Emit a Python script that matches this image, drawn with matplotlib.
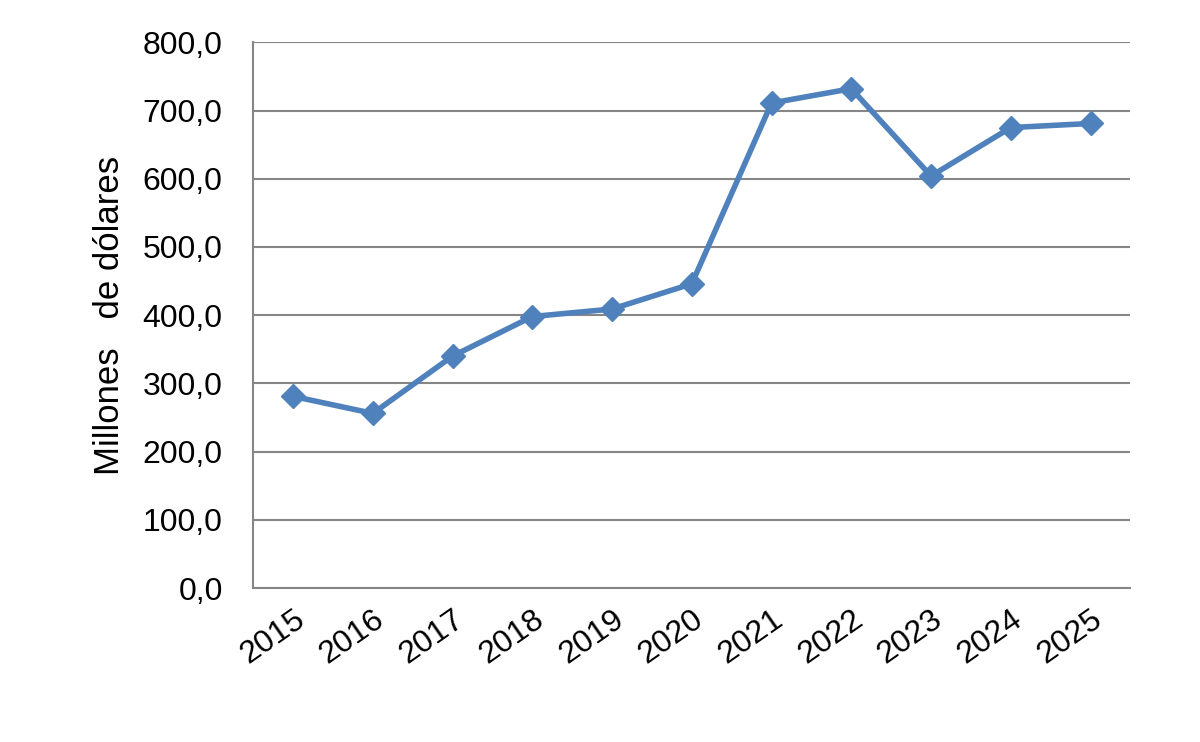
import matplotlib.pyplot as plt
from matplotlib.ticker import FuncFormatter

plt.rcParams['font.family'] = ['Liberation Sans', 'DejaVu Sans']

years = ['2015', '2016', '2017', '2018', '2019', '2020', '2021', '2022', '2023', '2024', '2025']
values = [281, 256, 340, 398, 409, 446, 711, 732, 604, 675, 681]

fig = plt.figure(figsize=(12, 7.42), dpi=100)
ax = fig.add_axes([0.211, 0.2075, 0.731, 0.7355])

x = list(range(len(years)))
ax.plot(x, values, color='#4F81BD', linewidth=4, marker='D', markersize=12)

ax.set_xlim(-0.5, len(years) - 0.5)
ax.set_ylim(0, 800)
ax.set_yticks(range(0, 801, 100))
ax.yaxis.set_major_formatter(FuncFormatter(lambda v, p: f'{v:.1f}'.replace('.', ',')))
ax.set_xticks(x)
ax.set_xticklabels(years, rotation=35, ha='right', rotation_mode='anchor')
ax.tick_params(axis='both', labelsize=23, length=0)
ax.tick_params(axis='y', pad=22)
ax.tick_params(axis='x', pad=12)
ax.grid(axis='y', color='#868686', linewidth=1.5)
ax.set_axisbelow(True)
for s in ['top', 'right']:
    ax.spines[s].set_visible(False)
ax.spines['left'].set_color('#868686')
ax.spines['bottom'].set_color('#868686')
ax.spines['left'].set_linewidth(1.5)
ax.spines['bottom'].set_linewidth(1.5)
ax.set_ylabel('Millones   de dólares', fontsize=25, labelpad=12)

fig.savefig('out.png')
